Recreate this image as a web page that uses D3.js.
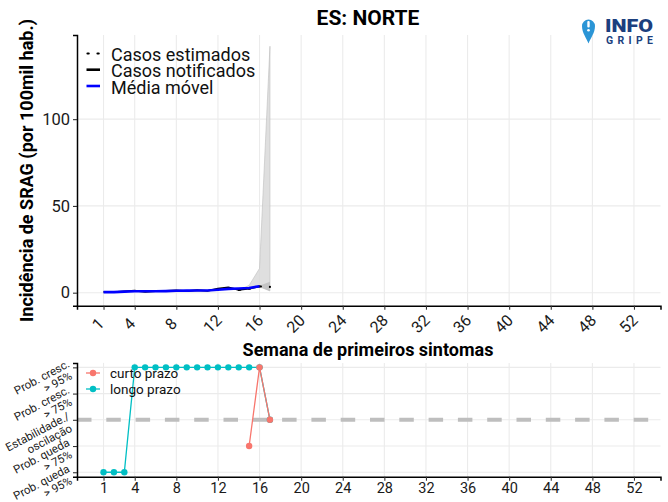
<!DOCTYPE html>
<html><head><meta charset="utf-8">
<script src="https://cdn.jsdelivr.net/npm/d3@7"></script>
<style>body{margin:0;background:#fff}svg{display:block;font-family:Roboto,"Noto Sans",sans-serif}</style>
</head><body><svg id="c" width="668" height="502"></svg>
<script>
// ---- data ----
const title = "ES: NORTE";
const xTicks = [1,4,8,12,16,20,24,28,32,36,40,44,48,52];
const yTicks = [0,50,100];
const weeks = [1,2,3,4,5,6,7,8,9,10,11,12,13,14,15,16];
const notified = [0.5,0.3,0.8,1.2,0.4,0.9,1.1,1.4,0.9,1.5,1.1,2.4,3.1,1.6,2.3,3.6];
const movingAvg = [0.3,0.3,0.6,0.8,0.8,0.8,0.9,1.1,1.2,1.3,1.3,1.7,2.2,2.4,2.7,3.7];
const estWeeks = [14,15,16,17];
const estimated = [1.6,2.3,3.6,3.3];
const bandWeeks = [14,15,16,17];
const bandLo = [1.6,2.3,3.4,1.0];
const bandHi = [1.6,4.2,14,142];
const band2Weeks = [15,16,17];
const band2Lo = [2.3,3.4,1.0];
const band2Hi = [2.4,4.0,6.3];
const legendTop = ["Casos estimados","Casos notificados","Média móvel"];
const levels = [-2,-1,0,1,2];
const levelLabels = [["Prob. queda","> 95%"],["Prob. queda","> 75%"],["Estabilidade./","oscilação"],["Prob. cresc.","> 75%"],["Prob. cresc.","> 95%"]];
const trendWeeksLong = [1,2,3,4,5,6,7,8,9,10,11,12,13,14,15,16,17];
const trendLong = [-2,-2,-2,2,2,2,2,2,2,2,2,2,2,2,2,2,0];
const trendWeeksShort = [15,16,17];
const trendShort = [-1,2,0];
const legendBottom = ["curto prazo","longo prazo"];

const svg = d3.select("#c");
const grid = "#ebebeb";
const x = d3.scaleLinear().domain([-1.55,54.55]).range([77,660.5]);
const y = d3.scaleLinear().domain([-7.5,148.5]).range([305.7,35]);
const yb = d3.scaleLinear().domain([-2.17,2.17]).range([476.7,362.9]);

// ---- top panel ----
const topG = svg.append("g");
topG.selectAll(".gv").data(xTicks).join("line").attr("x1",d=>x(d)).attr("x2",d=>x(d)).attr("y1",35).attr("y2",305.7).attr("stroke",grid).attr("stroke-width",1.1);
topG.selectAll(".gh").data(yTicks).join("line").attr("x1",77).attr("x2",660.5).attr("y1",d=>y(d)).attr("y2",d=>y(d)).attr("stroke",grid).attr("stroke-width",1.1);

const area = (lo,hi,ws)=>d3.area().x((d,i)=>x(ws[i])).y0((d,i)=>y(lo[i])).y1((d,i)=>y(hi[i]))(ws);
topG.append("path").attr("d",area(bandLo,bandHi,bandWeeks)).attr("fill","#d9d9d9").attr("fill-opacity",0.85).attr("stroke","#bdbdbd").attr("stroke-width",0.6);
topG.append("path").attr("d",area(band2Lo,band2Hi,band2Weeks)).attr("fill","#bdbdbd").attr("fill-opacity",0.8);

const line = (ws,vs,sc)=>d3.line().x((d,i)=>x(ws[i])).y((d,i)=>sc(vs[i]))(ws);
topG.append("path").attr("d",line(estWeeks,estimated,y)).attr("fill","none").attr("stroke","#000").attr("stroke-width",2.2).attr("stroke-dasharray","1.5 9").attr("stroke-linecap","round");
topG.append("path").attr("d",line(weeks,notified,y)).attr("fill","none").attr("stroke","#000").attr("stroke-width",1.7);
topG.append("path").attr("d",line(weeks,movingAvg,y)).attr("fill","none").attr("stroke","#0000ff").attr("stroke-width",2.6);

// axes
const ax = topG.append("g").attr("transform","translate(0,305.7)").call(d3.axisBottom(x).tickValues(xTicks).tickSize(4).tickFormat(d3.format("d")));
ax.select(".domain").attr("stroke","#000").attr("stroke-width",1.5);
ax.selectAll(".tick line").attr("stroke","#333").attr("stroke-width",1.1);
ax.selectAll(".tick text").attr("font-size",16).attr("fill","#1a1a1a").attr("font-family","Roboto")
  .attr("text-anchor","middle").attr("dy",null).attr("y",0).attr("transform","translate(-2,22) rotate(-45)");
const ay = topG.append("g").attr("transform","translate(77,0)").call(d3.axisLeft(y).tickValues(yTicks).tickSize(4));
ay.select(".domain").attr("stroke","#000").attr("stroke-width",1.5);
ay.selectAll(".tick text").attr("font-size",16.5).attr("fill","#1a1a1a").attr("font-family","Roboto");
ay.selectAll(".tick line").attr("stroke","#333").attr("stroke-width",1.1);

svg.append("text").attr("x",368).attr("y",25).attr("text-anchor","middle").attr("font-weight","bold").attr("font-size",21).text(title);
svg.append("text").attr("transform","translate(33,170.5) rotate(-90)").attr("text-anchor","middle").attr("font-weight","bold").attr("font-size",18).text("Incidência de SRAG (por 100mil hab.)");

// legend top
const lg = svg.append("g");
const keyY = [53.5,69.7,86];
legendTop.forEach((t,i)=>{
  lg.append("text").attr("x",111).attr("y",keyY[i]+7.5).attr("font-size",18).attr("fill","#111").text(t);
});
lg.append("line").attr("x1",87.5).attr("x2",100).attr("y1",keyY[0]).attr("y2",keyY[0]).attr("stroke","#000").attr("stroke-width",2.2).attr("stroke-dasharray","1.2 8.8").attr("stroke-linecap","round");
lg.append("line").attr("x1",86.5).attr("x2",100).attr("y1",keyY[1]).attr("y2",keyY[1]).attr("stroke","#000").attr("stroke-width",2.6);
lg.append("line").attr("x1",86.5).attr("x2",100).attr("y1",keyY[2]).attr("y2",keyY[2]).attr("stroke","#0000ff").attr("stroke-width",2.6);

// x title
svg.append("text").attr("x",368).attr("y",356).attr("text-anchor","middle").attr("font-weight","bold").attr("font-size",18).text("Semana de primeiros sintomas");

// logo
const logo = svg.append("g");
logo.append("path").attr("d","M588.5,43.5 C586.5,38 582,33 582,26 A6.5,6.5 0 1 1 595,26 C595,33 590.5,38 588.5,43.5 Z").attr("fill","#2b95d6");
logo.append("rect").attr("x",587.3).attr("y",21).attr("width",2.4).attr("height",6.5).attr("rx",1).attr("fill","#fff");
logo.append("circle").attr("cx",588.5).attr("cy",30.3).attr("r",1.3).attr("fill","#fff");
logo.append("text").attr("x",605).attr("y",32).attr("font-size",19).attr("font-weight","900").attr("fill","#1c3f7e").attr("textLength",48).attr("lengthAdjust","spacingAndGlyphs").text("INFO");
logo.append("text").attr("x",606).attr("y",44).attr("font-size",10.5).attr("font-weight","bold").attr("fill","#1c3f7e").attr("textLength",47).text("GRIPE");

// ---- bottom panel ----
const bot = svg.append("g");
bot.selectAll(".bgv").data(xTicks).join("line").attr("x1",d=>x(d)).attr("x2",d=>x(d)).attr("y1",362.9).attr("y2",476.7).attr("stroke",grid).attr("stroke-width",1.1);
bot.selectAll(".bgh").data(levels).join("line").attr("x1",77).attr("x2",660.5).attr("y1",d=>yb(d)).attr("y2",d=>yb(d)).attr("stroke",grid).attr("stroke-width",1.1);
bot.append("line").attr("x1",77).attr("x2",660.5).attr("y1",yb(0)).attr("y2",yb(0)).attr("stroke","#bebebe").attr("stroke-width",4).attr("stroke-dasharray","14.5 14.8");

const lineB = (ws,vs)=>d3.line().x((d,i)=>x(ws[i])).y((d,i)=>yb(vs[i]))(ws);
const teal = "#00BFC4", red = "#F8766D";
bot.append("path").attr("d",lineB(trendWeeksLong,trendLong)).attr("fill","none").attr("stroke",teal).attr("stroke-width",1.3);
bot.selectAll(".pt").data(trendWeeksLong).join("circle").attr("cx",d=>x(d)).attr("cy",(d,i)=>yb(trendLong[i])).attr("r",3.2).attr("fill",teal);
bot.append("path").attr("d",lineB(trendWeeksShort,trendShort)).attr("fill","none").attr("stroke",red).attr("stroke-width",1.3);
bot.selectAll(".ps").data(trendWeeksShort).join("circle").attr("cx",d=>x(d)).attr("cy",(d,i)=>yb(trendShort[i])).attr("r",3.2).attr("fill",red);

const bx = bot.append("g").attr("transform","translate(0,476.7)").call(d3.axisBottom(x).tickValues(xTicks).tickSize(4).tickFormat(d3.format("d")));
bx.select(".domain").attr("stroke","#000").attr("stroke-width",1.5);
bx.selectAll(".tick line").attr("stroke","#333").attr("stroke-width",1.1);
bx.selectAll(".tick text").attr("font-size",14.5).attr("fill","#1a1a1a").attr("font-family","Roboto").attr("dy",null).attr("y",16.3);
const by = bot.append("g").attr("transform","translate(77,0)").call(d3.axisLeft(yb).tickValues(levels).tickSize(4).tickFormat(""));
by.select(".domain").attr("stroke","#000").attr("stroke-width",1.5);
by.selectAll(".tick line").attr("stroke","#333").attr("stroke-width",1.1);
levels.forEach((lv,i)=>{
  const yy = yb(lv);
  const [l1,l2] = levelLabels[i];
  svg.append("text").attr("transform",`translate(70.5,${yy-1}) rotate(-28)`).attr("text-anchor","end").attr("font-size",11.5).attr("fill","#222").text(l1);
  svg.append("text").attr("transform",`translate(73,${yy+11}) rotate(-28)`).attr("text-anchor","end").attr("font-size",11.5).attr("fill","#222").text(l2);
});

// legend bottom
[red,teal].forEach((c,i)=>{
  const yy = 373 + i*16;
  bot.append("line").attr("x1",86).attr("x2",100).attr("y1",yy).attr("y2",yy).attr("stroke",c).attr("stroke-width",1.3);
  bot.append("circle").attr("cx",93).attr("cy",yy).attr("r",3.2).attr("fill",c);
  bot.append("text").attr("x",110).attr("y",yy+5).attr("font-size",13.5).attr("fill","#111").text(legendBottom[i]);
});
</script></body></html>
